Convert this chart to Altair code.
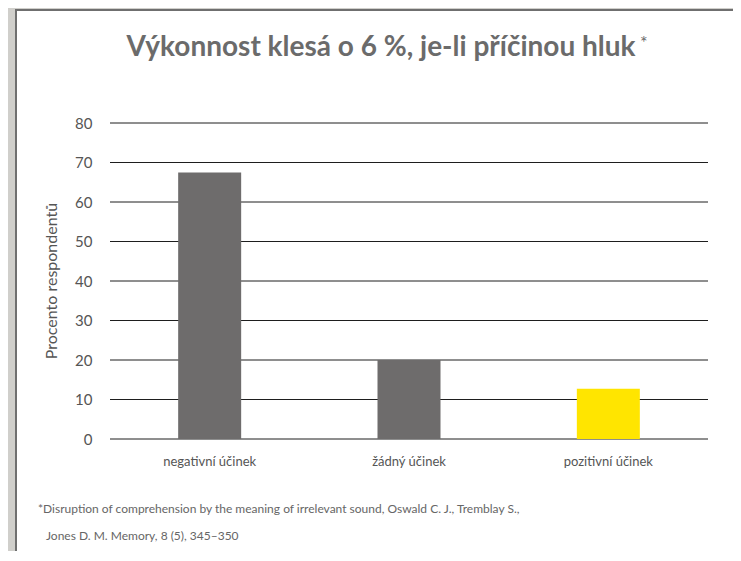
import altair as alt
import pandas as pd

categories = ["negativní účinek", "žádný účinek", "pozitivní účinek"]
values = [67.5, 20.0, 12.7]
bar_colors = ["#6e6c6c", "#6e6c6c", "#ffe500"]
y_ticks = [0, 10, 20, 30, 40, 50, 60, 70, 80]
y_title = "Procento respondentů"
title_text = "Výkonnost klesá o 6 %, je-li příčinou hluk"
footnote_lines = [
    "*Disruption of comprehension by the meaning of irrelevant sound, Oswald C. J., Tremblay S.,",
    "Jones D. M. Memory, 8 (5), 345–350",
]

FONT = "Lato"
W, H = 598, 316

bars_df = pd.DataFrame({"cat": categories, "val": values, "color": bar_colors})
grid_df = pd.DataFrame({"v": y_ticks})

yscale = alt.Scale(domain=[0, 80], nice=False)
xscale = alt.Scale(domain=categories, paddingInner=0, paddingOuter=0)

yaxis = alt.Axis(values=y_ticks, grid=False, domain=False, ticks=False, zindex=1,
                 labelOverlap=False, labelPadding=18, labelFontSize=15,
                 labelColor="#555555", labelFont=FONT, title=None)

# white panel and border
border = alt.Chart(pd.DataFrame({"a": [1]})).mark_rect(color="#6f6f6f").encode(
    x=alt.value(-95), x2=alt.value(640), y=alt.value(-114), y2=alt.value(500)
)
panel = alt.Chart(pd.DataFrame({"a": [1]})).mark_rect(color="white").encode(
    x=alt.value(-93), x2=alt.value(640), y=alt.value(-112), y2=alt.value(500)
)

grid = alt.Chart(grid_df).mark_rule(color="#1e1e1e", strokeWidth=1).encode(
    y=alt.Y("v:Q", scale=yscale, axis=yaxis),
    x=alt.value(0), x2=alt.value(W),
)

bars = alt.Chart(bars_df).mark_bar(size=63).encode(
    x=alt.X("cat:N", scale=xscale, sort=categories,
            axis=alt.Axis(domain=False, ticks=False, labelAngle=0, labelPadding=16, zindex=1,
                          labelFontSize=13, labelColor="#555555", labelFont=FONT,
                          title=None)),
    y=alt.Y("val:Q", scale=yscale, axis=yaxis),
    color=alt.Color("color:N", scale=None, legend=None),
)

ytitle = alt.Chart(pd.DataFrame({"t": [y_title]})).mark_text(
    font=FONT, fontSize=16, color="#555555", align="center", baseline="middle", angle=270
).encode(text="t:N", x=alt.value(-58), y=alt.value(H / 2))

title = alt.Chart(pd.DataFrame({"t": [title_text]})).mark_text(
    font=FONT, fontSize=28, fontWeight="bold", color="#6b6b6b", align="center", baseline="middle"
).encode(text="t:N", x=alt.value(271), y=alt.value(-75))

star = alt.Chart(pd.DataFrame({"t": ["*"]})).mark_text(
    font=FONT, fontSize=18, color="#6b6b6b", align="left", baseline="middle"
).encode(text="t:N", x=alt.value(530), y=alt.value(-79))

foot1 = alt.Chart(pd.DataFrame({"t": [footnote_lines[0]]})).mark_text(
    font=FONT, fontSize=12, color="#666666", align="left", baseline="middle"
).encode(text="t:N", x=alt.value(-72), y=alt.value(386))
foot2 = alt.Chart(pd.DataFrame({"t": [footnote_lines[1]]})).mark_text(
    font=FONT, fontSize=12, color="#666666", align="left", baseline="middle"
).encode(text="t:N", x=alt.value(-64), y=alt.value(413))

chart = alt.layer(border, panel, grid, bars, ytitle, title, star, foot1, foot2).properties(
    width=W, height=H,
    autosize=alt.AutoSizeParams(type="none"),
    padding={"left": 102, "top": 115, "right": 25, "bottom": 112},
    background="#d0cfcb",
).configure_view(stroke=None)

chart.save("out.html", embed_options={"renderer": "svg", "actions": False})
